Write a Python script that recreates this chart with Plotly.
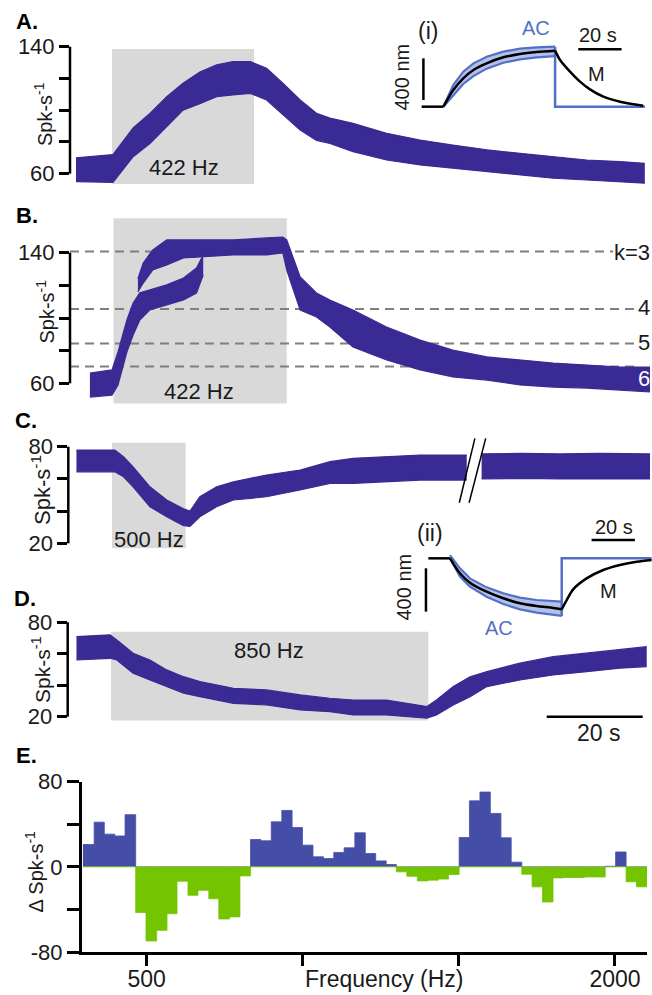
import plotly.graph_objects as go

W, H = 652, 995
FONT = "Liberation Sans, Arial, sans-serif"
PURPLE = "#3A2A94"
BAR_BLUE = "#444EA7"
BAR_GREEN = "#74C400"
AC_BLUE = "#5470C6"
AC_FILL = "#B3C0EA"
GRAY_BOX = "#D9D9D9"
DASH_GRAY = "#7F7F7F"

# ---------------- data ----------------
# Panel A (422 Hz) : time (s), lower / upper edge of the spike-rate cloud (spk/s)
A_t = [0, 7.7, 11.9, 15.4, 18.9, 22.3, 25.8, 29.3, 32.7, 36.3, 39.7, 43.1, 46.7,
       50.1, 52.9, 57.7, 64.7, 71.7, 78.5, 85.6, 92.5, 99.4, 106.4, 113.3, 118.5]
A_hi = [70, 72, 88.8, 98, 108.5, 117, 124, 128.5, 130.6, 130.6, 126.4, 117, 106.4,
        98, 95, 91.7, 85.4, 81.2, 78, 75, 72.8, 70.7, 68.6, 67.6, 66.5]
A_lo = [55, 54.5, 70.7, 79, 89.6, 100, 104, 108.5, 109.6, 110.6, 106.4, 97, 87.5,
        81, 79, 73.9, 68.6, 65.5, 63.4, 61.3, 59.2, 57.1, 56, 55, 54]
A_stim = [7.5, 37.1]

# Panel B (422 Hz, mode-locked) : lower branch and upper branch
B1_t = [2.9, 7.5, 8.75, 10.6, 11.9, 13.3, 15.4, 18.9, 22.4, 25.1, 26.5]
B1_hi = [66.3, 68.2, 79.2, 98.8, 109.2, 115.4, 117.2, 120.3, 124.5, 130.6, 138.6]
B1_lo = [51.6, 52.8, 59, 79.2, 89.6, 98.8, 105, 108, 111, 115.3, 126.3]
B2_t = [12.9, 14.0, 16.0, 18.9, 22.4, 25.8, 32.7, 39.7, 43.1, 43.9, 46.7, 50.1, 52.9,
        57.7, 64.7, 71.7, 78.5, 85.6, 92.5, 99.4, 106.4, 113.3, 119.6]
B2_hi = [124, 133.7, 141.7, 147.8, 147.8, 147.8, 147.8, 149, 149.6, 147.8, 125.1, 115.3, 111,
         104.9, 94.5, 86.5, 80.4, 76.2, 74.3, 72.4, 71.2, 70, 70]
B2_lo = [116, 121.4, 129.4, 132.5, 136.8, 137.4, 138.6, 138.6, 139.8, 129.4, 104.9, 100.6, 94.5,
         82.3, 74.3, 68.2, 63.9, 62, 59, 57.7, 57.1, 55.9, 54.7]
B_stim = [7.8, 43.9]
B_k_rates = [140.67, 105.5, 84.4, 70.33]
B_k_labels = ["k=3", "4", "5", "6"]

# Panel C (500 Hz) : two segments around an axis break
C1_t = [0.1, 8.1, 9.9, 11.9, 15.4, 18.9, 22.4, 23.75, 25.8, 29.3, 32.8, 39.7, 46.7,
        52.9, 57.7, 64.7, 71.7, 81.4]
C1_hi = [77.9, 77.9, 73.8, 67.5, 55.1, 46.9, 41.5, 40, 48.9, 55.1, 58.2, 62.4, 65.5,
         70.7, 72.8, 73.8, 74.8, 74.8]
C1_lo = [64.4, 64.4, 61.3, 55.1, 42.7, 36.5, 31, 30.5, 36.5, 42.7, 46.9, 48.9, 53.1,
         57.2, 57.2, 58.2, 59.3, 59.3]
C2_t = [84.5, 92.5, 100.8, 109.2, 119.8]
C2_hi = [75.5, 75.8, 75.5, 75.8, 75.5]
C2_lo = [60, 60.3, 60, 59.8, 60]
C_stim = [7.5, 22.85]

# Panel D (850 Hz)
D_t = [0.1, 7.1, 8.5, 11.9, 15.4, 18.9, 22.4, 25.8, 32.8, 39.7, 46.7, 52.9, 57.8, 64.7,
       73.1, 75.1, 78.6, 82.1, 85.6, 92.5, 99.4, 106.4, 113.3, 118.9]
D_hi = [70.9, 72, 68.8, 60.3, 56, 49.7, 45.4, 42.3, 38, 37, 33.8, 31.7, 30.6, 30.6,
        26.4, 30.6, 39.1, 45.4, 48.6, 54, 58.1, 60.3, 62.4, 64.5]
D_lo = [56, 57.1, 56, 47.6, 43.3, 39.1, 34.9, 32.7, 28.5, 27.4, 24.3, 23.2, 21.1, 21.1,
        19, 21.1, 27.4, 32.7, 39.1, 43.3, 46.5, 48.6, 50.8, 51.8]
D_stim = [7.3, 73.4]

# Panel E : frequency bin edges (Hz) and change in spike rate per bin
E_edges = [414, 428, 441, 455, 469, 484, 499, 515, 531, 547, 565, 582, 601, 619, 639,
           659, 680, 701, 723, 746, 769, 793, 818, 844, 870, 897, 926, 955, 985, 1016,
           1047, 1080, 1114, 1149, 1185, 1222, 1261, 1300, 1341, 1383, 1427, 1471, 1518,
           1565, 1614, 1665, 1717, 1771, 1827, 1884, 1943, 2004, 2067, 2132, 2199]
E_vals = [21, 42, 30.7, 29, 49, -43, -69.6, -59.6, -44, -13.5, -26.7, -22, -30, -49, -47,
          -8.5, 25.7, 24.5, 42.3, 53, 37, 20.4, 9.4, 7.8, 13.5, 17.9, 32, 12.5, 5.6, 2.2,
          -4.7, -8.8, -13.2, -12.5, -11.5, -7.2, 27.6, 62, 70.3, 50.2, 27.3, 4.4, -6.9,
          -18.8, -33, -10.4, -10, -10, -9.5, -9.5, 0.5, 14, -14, -18.8]
E_ticks = [500, 2000]
E_minor_ticks = [793.7, 1259.9]

# Insets: stimulus displacement (nm) vs time (s)
Ii_band_t = [0, 4.6, 9.2, 13.9, 20, 27.7, 35.4, 43.1, 51.6]
Ii_band_hi = [0, 208, 336, 416, 480, 528, 557, 570, 576]
Ii_band_lo = [0, 112, 218, 294, 365, 422, 454, 474, 486]
Ii_step_t = [51.6, 51.6, 93.1]
Ii_step_y = [576, 0, 0]
Ii_flat_t = [-10, 0]
Ii_flat_y = [0, 0]
Ii_rise_t = [0, 4.6, 9.2, 13.9, 20, 27.7, 35.4, 43.1, 51.6]
Ii_rise_y = [0, 160, 272, 352, 416, 474, 506, 525, 538]
Ii_fall_t = [51.6, 53.9, 58.5, 63.1, 67.7, 73.9, 81.6, 92.3]
Ii_fall_y = [538, 448, 336, 240, 166, 96, 48, 10]

Iii_band_t = [0, 4.6, 9.2, 16.9, 24.6, 32.3, 40, 51.6]
Iii_band_hi = [30, -92, -185, -268, -323, -363, -385, -400]
Iii_band_lo = [0, -169, -262, -354, -422, -471, -502, -532]
Iii_step_t = [51.6, 51.6, 93.1]
Iii_step_y = [-532, 0, 0]
Iii_flat_t = [-10, 0]
Iii_flat_y = [0, 0]
Iii_fall_t = [0, 4.6, 9.2, 16.9, 24.6, 32.3, 40, 47.7, 51.6]
Iii_fall_y = [0, -138, -225, -308, -369, -415, -440, -458, -471]
Iii_rise_t = [51.6, 53.9, 56.9, 63.1, 70.8, 78.5, 86.2, 93.1]
Iii_rise_y = [-471, -385, -286, -185, -108, -62, -31, -15]


# ---------------- helpers ----------------
def px(x):
    return x / W


def py(y):
    return 1 - y / H


fig = go.Figure()
shapes = []
annotations = []


def band(t, lo, hi, xa, ya, color=PURPLE, fill=PURPLE, lw=1.2):
    fig.add_trace(go.Scatter(x=t, y=lo, mode="lines", line=dict(color=color, width=lw),
                             xaxis=xa, yaxis=ya, hoverinfo="skip", showlegend=False))
    fig.add_trace(go.Scatter(x=t, y=hi, mode="lines", line=dict(color=color, width=lw),
                             fill="tonexty", fillcolor=fill,
                             xaxis=xa, yaxis=ya, hoverinfo="skip", showlegend=False))


def curve(t, y, xa, ya, color="black", width=2.5, shape="linear"):
    fig.add_trace(go.Scatter(x=t, y=y, mode="lines",
                             line=dict(color=color, width=width, shape=shape, smoothing=0.8),
                             xaxis=xa, yaxis=ya, hoverinfo="skip", showlegend=False))


def text(x, y, s, size=21, color="#1a1a1a", angle=0, bold=False, xanchor="center"):
    if bold:
        s = "<b>" + s + "</b>"
    annotations.append(dict(x=px(x), y=py(y), xref="paper", yref="paper", text=s,
                            showarrow=False, textangle=angle, xanchor=xanchor, yanchor="middle",
                            font=dict(family=FONT, size=size, color=color)))


def stim_box(xr, yr, t0t1, y0y1):
    shapes.append(dict(type="rect", xref=xr, yref=yr, x0=t0t1[0], x1=t0t1[1], y0=y0y1[0], y1=y0y1[1],
                       fillcolor=GRAY_BOX, line=dict(width=0), layer="below"))


def yline(yr, xr_dom, lo, hi):
    shapes.append(dict(type="line", xref=xr_dom, yref=yr, x0=0, x1=0, y0=lo, y1=hi,
                       line=dict(color="black", width=2.5)))


# ---------------- panel A ----------------
stim_box("x", "y", A_stim, [53.5, 138.5])
band(A_t, A_lo, A_hi, "x", "y")
yline("y", "x domain", 60, 140)

# ---------------- panel B ----------------
stim_box("x2", "y2", B_stim, [47.7, 161])
for i, k in enumerate(B_k_rates):
    shapes.append(dict(type="line", xref="x2", yref="y2", x0=-1.25, x1=111.9 if i == 0 else 116.9,
                       y0=k, y1=k, line=dict(color=DASH_GRAY, width=2, dash="9px,6px"), layer="below"))
band(B1_t, B1_lo, B1_hi, "x2", "y2")
band(B2_t, B2_lo, B2_hi, "x2", "y2")
yline("y2", "x2 domain", 60, 140)

# ---------------- panel C ----------------
stim_box("x3", "y3", C_stim, [16.9, 82.4])
band(C1_t, C1_lo, C1_hi, "x3", "y3")
band(C2_t, C2_lo, C2_hi, "x3", "y3")
yline("y3", "x3 domain", 20, 80)
shapes.append(dict(type="line", xref="x3", yref="y3", x0=83.1, x1=79.85, y0=85.2, y1=45.2,
                   line=dict(color="black", width=1.5)))
shapes.append(dict(type="line", xref="x3", yref="y3", x0=85.35, x1=81.9, y0=85.2, y1=45.2,
                   line=dict(color="black", width=1.5)))

# ---------------- panel D ----------------
stim_box("x4", "y4", D_stim, [17.5, 74])
band(D_t, D_lo, D_hi, "x4", "y4")
yline("y4", "x4 domain", 20, 80)
shapes.append(dict(type="line", xref="x4", yref="y4", x0=98.06, x1=118.06, y0=20, y1=20,
                   line=dict(color="black", width=2.5)))

# ---------------- panel E ----------------
pos = [max(v, 0) for v in E_vals]
neg = [min(v, 0) for v in E_vals]
fig.add_trace(go.Scatter(x=E_edges, y=pos + [pos[-1]], mode="lines", line_shape="hv",
                         line=dict(color=BAR_BLUE, width=0.8), fill="tozeroy", fillcolor=BAR_BLUE,
                         xaxis="x5", yaxis="y5", hoverinfo="skip", showlegend=False))
fig.add_trace(go.Scatter(x=E_edges, y=neg + [neg[-1]], mode="lines", line_shape="hv",
                         line=dict(color=BAR_GREEN, width=0.8), fill="tozeroy", fillcolor=BAR_GREEN,
                         xaxis="x5", yaxis="y5", hoverinfo="skip", showlegend=False))

# ---------------- insets ----------------
band(Ii_band_t, Ii_band_lo, Ii_band_hi, "x6", "y6", color=AC_BLUE, fill=AC_FILL, lw=2.2)
curve(Ii_step_t, Ii_step_y, "x6", "y6", color=AC_BLUE, width=2.5)
curve(Ii_flat_t, Ii_flat_y, "x6", "y6")
curve(Ii_rise_t, Ii_rise_y, "x6", "y6", shape="spline")
curve(Ii_fall_t, Ii_fall_y, "x6", "y6", shape="spline")
shapes.append(dict(type="line", xref="x6", yref="y6", x0=62.3, x1=82.3, y0=551, y1=551,
                   line=dict(color="black", width=2.5)))
shapes.append(dict(type="line", xref="x6", yref="y6", x0=-9.2, x1=-9.2, y0=64, y1=464,
                   line=dict(color="black", width=2.5)))

band(Iii_band_t, Iii_band_lo, Iii_band_hi, "x7", "y7", color=AC_BLUE, fill=AC_FILL, lw=2.2)
curve(Iii_step_t, Iii_step_y, "x7", "y7", color=AC_BLUE, width=2.5)
curve(Iii_flat_t, Iii_flat_y, "x7", "y7")
curve(Iii_fall_t, Iii_fall_y, "x7", "y7", shape="spline")
curve(Iii_rise_t, Iii_rise_y, "x7", "y7", shape="spline")
shapes.append(dict(type="line", xref="x7", yref="y7", x0=65.4, x1=85.4, y0=169, y1=169,
                   line=dict(color="black", width=2.5)))
shapes.append(dict(type="line", xref="x7", yref="y7", x0=-11.1, x1=-11.1, y0=-92, y1=-492,
                   line=dict(color="black", width=2.5)))

# ---------------- text ----------------
for lab, (x, y) in zip(["A.", "B.", "C.", "D.", "E."],
                       [(26.5, 21.5), (26.5, 215.5), (26, 420.5), (25, 598.5), (26, 755)]):
    text(x, y, lab, size=22, color="black", bold=True)

ylab = "Spk-s<sup>-1</sup>"
text(43, 114, ylab, size=20, angle=-90)
text(45, 311.5, ylab, size=20, angle=-90)
text(41, 490, ylab, size=22, angle=-90)
text(41, 670, ylab, size=21, angle=-90)
text(34, 871.5, "Δ " + ylab, size=20, angle=-90)

text(184.5, 167.5, "422 Hz", size=22)
text(199, 391.5, "422 Hz", size=22)
text(149, 539.5, "500 Hz", size=22)
text(269, 650.5, "850 Hz", size=22)

for lab, k, yy in zip(B_k_labels, B_k_rates, [252.5, 307.5, 342.5, 378.5]):
    text(652, yy, lab, size=22, color="white" if lab == "6" else "#1a1a1a", xanchor="right")

text(598, 733, "20 s", size=23)
text(383.5, 979, "Frequency (Hz)", size=23)

text(428, 31, "(i)", size=23)
text(536, 28, "AC", size=20, color=AC_BLUE)
text(598, 35, "20 s", size=20)
text(596.5, 74, "M", size=20)
text(401.5, 77, "400 nm", size=20, angle=-90)

text(430, 533, "(ii)", size=23)
text(614, 527, "20 s", size=20)
text(608.5, 591, "M", size=20)
text(499, 627.5, "AC", size=20, color=AC_BLUE)
text(403.5, 587, "400 nm", size=20, angle=-90)

# ---------------- axes ----------------
tickfont = dict(family=FONT, size=22, color="#1a1a1a")


def ycommon(dom, rng, vals, labels, minor_vals, anchor, ticklen=10):
    return dict(domain=dom, range=rng, anchor=anchor, tickmode="array", tickvals=vals, ticktext=labels,
                ticks="outside", ticklen=ticklen, tickwidth=2.5, tickcolor="black",
                minor=dict(tickmode="array", tickvals=minor_vals, ticks="outside", ticklen=ticklen,
                           tickwidth=2.5, tickcolor="black", showgrid=False),
                showline=False, showgrid=False, zeroline=False, tickfont=tickfont,
                automargin=False, fixedrange=True)


def xhidden(dom, rng, anchor):
    return dict(domain=dom, range=rng, anchor=anchor, visible=False, showgrid=False,
                zeroline=False, automargin=False, fixedrange=True)


layout = dict(
    width=W, height=H, margin=dict(l=0, r=0, t=0, b=0),
    paper_bgcolor="white", plot_bgcolor="rgba(0,0,0,0)", showlegend=False,
    font=dict(family=FONT, color="#1a1a1a"),
    xaxis=xhidden([px(70), px(650)], [-1.25, 119.58], "y"),
    yaxis=ycommon([py(190), py(40)], [49.7, 144.2], [60, 140], ["60", "140"], [80, 100, 120], "x"),
    xaxis2=xhidden([px(70), px(650)], [-1.25, 119.58], "y2"),
    yaxis2=ycommon([py(408), py(212)], [44.9, 164.9], [60, 140], ["60", "140"], [80, 100, 120], "x2"),
    xaxis3=xhidden([px(68.3), px(650)], [-1.6, 119.58], "y3"),
    yaxis3=ycommon([py(552), py(438)], [14.6, 85.4], [20, 80], ["20", "80"], [40, 60], "x3"),
    xaxis4=xhidden([px(67.7), px(650)], [-1.73, 119.58], "y4"),
    yaxis4=ycommon([py(725), py(618)], [14.7, 82.7], [20, 80], ["20", "80"], [40, 60], "x4"),
    xaxis5=dict(domain=[px(81.7), px(647)], type="log", range=[2.61542, 3.34223], anchor="y5",
                tickmode="array", tickvals=E_ticks, ticktext=[str(v) for v in E_ticks],
                ticks="outside", ticklen=11, tickwidth=2.5, tickcolor="black",
                minor=dict(tickmode="array", tickvals=E_minor_ticks, ticks="outside", ticklen=11,
                           tickwidth=2.5, tickcolor="black", showgrid=False),
                ticklabelstandoff=-6,
                showline=True, linewidth=2.5, linecolor="black", showgrid=False,
                zeroline=False, tickfont=dict(family=FONT, size=23, color="#1a1a1a"),
                automargin=False, fixedrange=True),
    yaxis5=dict(ycommon([py(952), py(781.7)], [-80, 80], [-80, 0, 80], ["-80", "0", "80"], [-40, 40],
                        "x5", ticklen=12), showline=True, linewidth=2.5, linecolor="black"),
    xaxis6=xhidden([px(418), px(648)], [-11.7, 94.5], "y6"),
    yaxis6=dict(domain=[py(112), py(40)], range=[-51, 640], anchor="x6", visible=False, showgrid=False,
                zeroline=False, fixedrange=True),
    xaxis7=xhidden([px(416), px(652)], [-15.7, 93.3], "y7"),
    yaxis7=dict(domain=[py(640), py(515)], range=[-754, 400], anchor="x7", visible=False, showgrid=False,
                zeroline=False, fixedrange=True),
    shapes=shapes,
    annotations=annotations,
)
fig.update_layout(**layout)
fig.write_html("out.html", config={"displayModeBar": False},
               post_script="document.body.style.margin='0';document.body.style.overflow='hidden';")
